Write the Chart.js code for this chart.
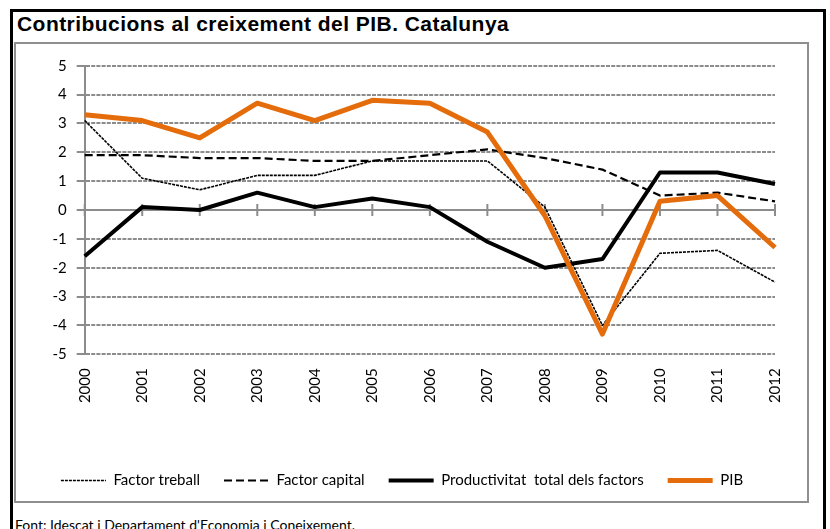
<!DOCTYPE html>
<html>
<head>
<meta charset="utf-8">
<script src="https://cdn.jsdelivr.net/npm/chart.js@4"></script>
<style>
	html, body { margin: 0; padding: 0; background: #fff; width: 830px; height: 529px; overflow: hidden; }
	.frame { position: absolute; left: 10px; top: 9px; width: 816px; height: 600px; border: 3px solid #000; box-sizing: border-box; }
	.title { position: absolute; left: 17px; top: 12px; font: bold 21px "Liberation Sans", Arial, sans-serif; letter-spacing: 0.45px; color: #000; white-space: nowrap; }
	.box { position: absolute; left: 14px; top: 42px; width: 795px; height: 461px; border: 2px solid #8f8f8f; box-sizing: border-box; }
	.wrap { position: absolute; left: 16px; top: 44px; width: 791px; height: 470px; }
	.source { position: absolute; left: 15px; top: 516px; font: 14px Lato, sans-serif; color: #000; white-space: nowrap; }
</style>
</head>
<body>
<div class="frame"></div>
<div class="title">Contribucions al creixement del PIB. Catalunya</div>
<div class="box"></div>
<div class="wrap"><canvas id="chart-pib"></canvas></div>
<div class="source">Font: Idescat i Departament d'Economia i Coneixement.</div>

<script>
const YEARS = ["2000", "2001", "2002", "2003", "2004", "2005", "2006", "2007", "2008", "2009", "2010", "2011", "2012"];
const FACTOR_TREBALL = [3.1, 1.1, 0.7, 1.2, 1.2, 1.7, 1.7, 1.7, 0.1, -4.0, -1.5, -1.4, -2.5];
const FACTOR_CAPITAL = [1.9, 1.9, 1.8, 1.8, 1.7, 1.7, 1.9, 2.1, 1.8, 1.4, 0.5, 0.6, 0.3];
const PRODUCTIVITAT = [-1.6, 0.1, 0.0, 0.6, 0.1, 0.4, 0.1, -1.1, -2.0, -1.7, 1.3, 1.3, 0.9];
const PIB = [3.3, 3.1, 2.5, 3.7, 3.1, 3.8, 3.7, 2.7, -0.2, -4.3, 0.3, 0.5, -1.3];
const Y_MIN = -5;
const Y_MAX = 5;

const GRID_GREY = "#8c8c8c";
const ORANGE = "#e46c0a";

// small tick marks across the zero line, one per year
const zeroTicks = {
	id: "zeroTicks",
	beforeDatasetsDraw(chart) {
		const { ctx, scales } = chart;
		const y0 = scales.y.getPixelForValue(0);
		ctx.save();
		ctx.strokeStyle = GRID_GREY;
		ctx.lineWidth = 2;
		YEARS.forEach((year, i) => {
			const x = scales.x.getPixelForValue(i);
			ctx.beginPath();
			ctx.moveTo(x, y0 - 6);
			ctx.lineTo(x, y0 + 6);
			ctx.stroke();
		});
		ctx.restore();
	},
};

const CHART_DATA = {
	labels: YEARS,
	datasets: [
		{
			label: "Factor treball",
			data: FACTOR_TREBALL,
			borderColor: "#000",
			borderWidth: 1.6,
			borderDash: [3, 1],
			order: 1,
		},
		{
			label: "Factor capital",
			data: FACTOR_CAPITAL,
			borderColor: "#000",
			borderWidth: 2.2,
			borderDash: [8, 4],
			order: 1,
		},
		{
			label: "Productivitat  total dels factors",
			data: PRODUCTIVITAT,
			borderColor: "#000",
			borderWidth: 4,
			order: 1,
		},
		{
			label: "PIB",
			data: PIB,
			borderColor: ORANGE,
			borderWidth: 5,
			order: 0,
		},
	],
};

const CHART_CONFIG = {
	type: "line",
	data: CHART_DATA,
	options: {
		responsive: true,
		maintainAspectRatio: false,
		animation: false,
		elements: {
			point: { radius: 0 },
			line: { tension: 0, borderJoinStyle: "round", fill: false },
		},
		layout: {
			padding: { top: 21.7, right: 19, bottom: 16, left: 0 },
		},
		scales: {
			x: {
				grid: { display: false, drawTicks: false },
				border: { display: false },
				afterFit(scale) {
					scale.height = 94.7;
				},
				ticks: {
					autoSkip: false,
					minRotation: 90,
					maxRotation: 90,
					padding: 14,
					color: "#000",
					font: { family: "Lato", size: 15 },
				},
			},
			y: {
				min: Y_MIN,
				max: Y_MAX,
				afterFit(scale) {
					scale.width = 68.7;
				},
				grid: {
					color: GRID_GREY,
					lineWidth: 2,
					tickLength: 8,
					tickColor: GRID_GREY,
					tickWidth: 2,
				},
				border: {
					display: true,
					color: GRID_GREY,
					width: 2,
					dash: (ctx) => (ctx.tick && ctx.tick.value !== 0 ? [4, 1.2] : []),
				},
				ticks: {
					stepSize: 1,
					padding: 10,
					color: "#000",
					font: { family: "Lato", size: 15 },
				},
			},
		},
		plugins: {
			title: { display: false },
			tooltip: { enabled: false },
			legend: {
				position: "bottom",
				labels: {
					usePointStyle: true,
					pointStyleWidth: 45,
					padding: 24,
					color: "#000",
					font: { family: "Lato", size: 15 },
					generateLabels: (chart) =>
						chart.data.datasets.map((ds, i) => ({
							text: ds.label,
							fillStyle: ds.borderColor,
							strokeStyle: ds.borderColor,
							lineWidth: ds.borderWidth,
							lineDash: ds.borderDash || [],
							pointStyle: "line",
							fontColor: "#000",
							hidden: false,
							datasetIndex: i,
						})),
				},
			},
		},
	},
	plugins: [zeroTicks],
};

const CHART_WRAPPER = document.getElementById("chart-pib");
if (CHART_WRAPPER) {
	new Chart(CHART_WRAPPER, CHART_CONFIG);
}
</script>
</body>
</html>
